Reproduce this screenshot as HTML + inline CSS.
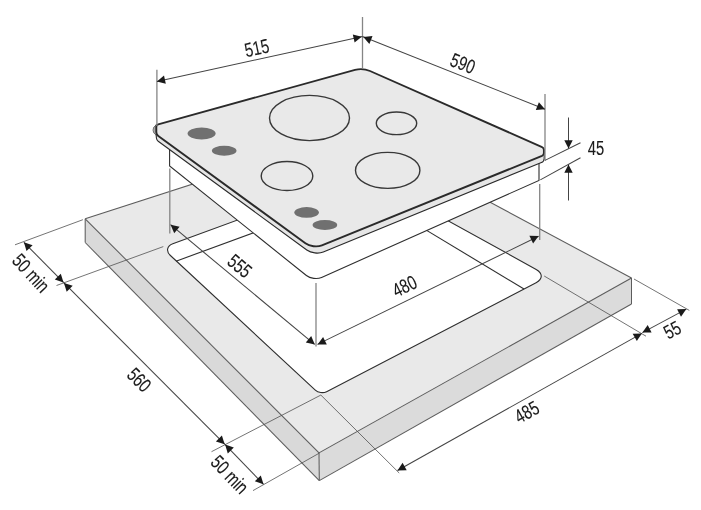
<!DOCTYPE html>
<html><head><meta charset="utf-8"><title>Hob installation dimensions</title>
<style>
html,body{margin:0;padding:0;background:#ffffff;}
body{width:701px;height:510px;overflow:hidden;font-family:"Liberation Sans",sans-serif;}
svg{display:block;font-family:"Liberation Sans",sans-serif;will-change:transform;filter:blur(0.35px);}
</style></head><body>
<svg width="701" height="510" viewBox="0 0 701 510">
<rect width="701" height="510" fill="#ffffff"/>
<polygon points="85.2,218.8 357.0,131.0 631.5,278.0 319.0,452.9" fill="#e9e9e9" stroke="none"/>
<polygon points="85.2,218.8 319.0,452.9 319.3,480.6 85.2,242.5" fill="#d9d9d9"/>
<polygon points="319.0,452.9 631.5,278.0 631.5,304.0 319.3,480.6" fill="#dbdbdb"/>
<path d="M170.4 255.5 C165.8 251.2 166.9 245.9 172.8 243.7 L363.2 174.1 L536.2 269.4 C543.0 273.2 542.9 279.1 536.1 282.7 L326.6 391.7 C323.2 393.4 318.1 392.8 315.3 390.1 Z" fill="#ffffff" stroke="#2e2e2e" stroke-width="1.1"/>
<line x1="176.0" y1="261.2" x2="300.0" y2="215.8" stroke="#2e2e2e" stroke-width="1.1"/>
<line x1="420.0" y1="226.4" x2="524.0" y2="289.0" stroke="#2e2e2e" stroke-width="1.1"/>
<line x1="85.2" y1="218.8" x2="357.0" y2="131.0" stroke="#5c5c5c" stroke-width="1.05"/>
<line x1="357.0" y1="131.0" x2="631.5" y2="278.0" stroke="#5c5c5c" stroke-width="1.05"/>
<line x1="631.5" y1="278.0" x2="319.0" y2="452.9" stroke="#5c5c5c" stroke-width="1.05"/>
<line x1="319.0" y1="452.9" x2="85.2" y2="218.8" stroke="#5c5c5c" stroke-width="1.05"/>
<line x1="85.2" y1="218.8" x2="85.2" y2="242.5" stroke="#5c5c5c" stroke-width="1.05"/>
<line x1="85.2" y1="242.5" x2="319.3" y2="480.6" stroke="#5c5c5c" stroke-width="1.05"/>
<line x1="319.3" y1="480.6" x2="631.5" y2="304.0" stroke="#5c5c5c" stroke-width="1.05"/>
<line x1="631.5" y1="304.0" x2="631.5" y2="278.0" stroke="#5c5c5c" stroke-width="1.05"/>
<line x1="319.0" y1="452.9" x2="319.3" y2="480.6" stroke="#5c5c5c" stroke-width="1.05"/>
<path d="M169.6 148.0 L169.6 166.0 L306.4 275.5 C310.2 278.6 317.1 279.4 321.6 277.4 L539.0 180.4 L539.0 160.0" fill="#ffffff" stroke="#2e2e2e" stroke-width="1.1"/>
<path d="M156.3 124.9 L154.2 127.9 C153.4 129.1 153.4 130.9 154.2 132.1 L155.4 133.8 C155.8 134.4 156.3 135.7 156.3 136.5 L156.4 138.0 C156.5 139.1 157.3 140.5 158.2 141.2 L306.8 250.0 C311.1 253.1 318.5 254.0 323.3 252.0 L541.4 162.5 C543.0 161.9 544.2 160.1 544.2 158.4 L544.2 150.0 Z" fill="#e6e6e6" stroke="#2a2a2a" stroke-width="1.1" stroke-linejoin="round"/>
<path d="M156.6 125 Q152.6 127 152.9 130.2 Q153.2 133.6 156.4 135 Z" fill="#a8a8a8" stroke="#555" stroke-width="0.6"/>
<path d="M543.6 148 L545 149.5 L545 155.5 L543.8 155.6 Z" fill="#9a9a9a"/>
<path d="M158.2 124.4 C157.2 124.7 156.3 125.8 156.3 126.9 L156.3 131.9 C156.3 133.3 157.2 135.1 158.3 135.9 L305.4 243.3 C309.6 246.4 317.1 247.3 321.9 245.3 L542.0 155.9 C543.1 155.4 543.9 154.2 543.9 153.1 L543.9 149.9 C543.9 148.8 543.1 147.5 542.1 147.1 L370.0 71.0 C366.0 69.3 359.2 68.8 355.0 69.9 Z" fill="#e9e9e9" stroke="#2a2a2a" stroke-width="1.9" stroke-linejoin="round"/>
<ellipse cx="309.5" cy="118.0" rx="40.0" ry="22.6" fill="none" stroke="#383838" stroke-width="1.4"/>
<ellipse cx="396.5" cy="123.3" rx="20.2" ry="11.3" fill="none" stroke="#383838" stroke-width="1.4"/>
<ellipse cx="287.0" cy="176.0" rx="25.8" ry="14.5" fill="none" stroke="#383838" stroke-width="1.4"/>
<ellipse cx="387.7" cy="170.4" rx="32.2" ry="18.0" fill="none" stroke="#383838" stroke-width="1.4"/>
<ellipse cx="201.6" cy="133.4" rx="14.0" ry="6.0" fill="#707070"/>
<ellipse cx="224.2" cy="150.8" rx="12.3" ry="5.0" fill="#707070"/>
<ellipse cx="306.6" cy="212.4" rx="12.3" ry="5.3" fill="#707070"/>
<ellipse cx="324.9" cy="225.0" rx="12.3" ry="5.0" fill="#707070"/>
<line x1="156.9" y1="69.8" x2="156.9" y2="126.0" stroke="#858585" stroke-width="1.3"/>
<line x1="362.5" y1="17.0" x2="362.5" y2="68.0" stroke="#858585" stroke-width="1.3"/>
<line x1="545.0" y1="94.0" x2="545.0" y2="160.4" stroke="#858585" stroke-width="1.3"/>
<line x1="539.7" y1="184.0" x2="539.7" y2="240.0" stroke="#858585" stroke-width="1.3"/>
<line x1="316.0" y1="283.0" x2="316.0" y2="346.5" stroke="#858585" stroke-width="1.3"/>
<line x1="169.8" y1="168.5" x2="169.8" y2="233.5" stroke="#858585" stroke-width="1.3"/>
<line x1="82.9" y1="219.7" x2="15.0" y2="244.8" stroke="#505050" stroke-width="0.8"/>
<line x1="163.3" y1="246.6" x2="56.5" y2="285.5" stroke="#505050" stroke-width="0.8"/>
<line x1="320.8" y1="395.1" x2="211.5" y2="451.7" stroke="#505050" stroke-width="0.8"/>
<line x1="319.5" y1="453.0" x2="253.0" y2="490.6" stroke="#505050" stroke-width="0.8"/>
<line x1="320.8" y1="395.0" x2="399.2" y2="473.0" stroke="#505050" stroke-width="0.8"/>
<line x1="544.2" y1="276.0" x2="646.0" y2="336.2" stroke="#505050" stroke-width="0.8"/>
<line x1="634.0" y1="279.0" x2="689.3" y2="310.4" stroke="#505050" stroke-width="0.8"/>
<line x1="545.0" y1="160.4" x2="580.5" y2="142.7" stroke="#444444" stroke-width="1.05"/>
<line x1="540.3" y1="179.9" x2="580.5" y2="157.8" stroke="#444444" stroke-width="1.05"/>
<line x1="156.9" y1="81.4" x2="362.5" y2="36.6" stroke="#444444" stroke-width="1.05"/>
<line x1="362.5" y1="36.6" x2="545.0" y2="109.2" stroke="#444444" stroke-width="1.05"/>
<line x1="568.5" y1="117.5" x2="568.5" y2="148.5" stroke="#444444" stroke-width="1.05"/>
<line x1="568.5" y1="164.6" x2="568.5" y2="200.5" stroke="#444444" stroke-width="1.05"/>
<line x1="317.4" y1="344.4" x2="538.6" y2="236.3" stroke="#444444" stroke-width="1.05"/>
<line x1="170.6" y1="224.7" x2="314.6" y2="344.4" stroke="#444444" stroke-width="1.05"/>
<line x1="23.9" y1="242.3" x2="63.7" y2="282.7" stroke="#444444" stroke-width="1.05"/>
<line x1="63.7" y1="282.7" x2="224.9" y2="444.4" stroke="#444444" stroke-width="1.05"/>
<line x1="224.9" y1="444.4" x2="263.5" y2="484.3" stroke="#444444" stroke-width="1.05"/>
<line x1="397.5" y1="470.5" x2="641.9" y2="333.4" stroke="#444444" stroke-width="1.05"/>
<line x1="642.4" y1="332.6" x2="686.3" y2="309.1" stroke="#444444" stroke-width="1.05"/>
<polygon points="156.9,81.4 164.0,75.5 165.8,83.8" fill="#1a1a1a"/>
<polygon points="361.7,36.8 354.6,42.6 352.8,34.4" fill="#1a1a1a"/>
<polygon points="363.3,37.0 372.5,36.1 369.4,43.9" fill="#1a1a1a"/>
<polygon points="545.0,109.2 535.8,110.1 538.9,102.3" fill="#1a1a1a"/>
<polygon points="568.5,148.5 564.3,140.3 572.7,140.3" fill="#1a1a1a"/>
<polygon points="568.5,164.6 572.7,172.8 564.3,172.8" fill="#1a1a1a"/>
<polygon points="538.6,236.0 533.1,243.4 529.4,235.8" fill="#1a1a1a"/>
<polygon points="317.6,344.4 323.1,337.0 326.8,344.6" fill="#1a1a1a"/>
<polygon points="170.6,224.7 179.6,226.7 174.2,233.2" fill="#1a1a1a"/>
<polygon points="314.8,344.4 305.8,342.4 311.2,335.9" fill="#1a1a1a"/>
<polygon points="23.9,242.3 32.6,245.3 26.5,251.1" fill="#1a1a1a"/>
<polygon points="63.5,282.5 54.8,279.5 60.8,273.7" fill="#1a1a1a"/>
<polygon points="63.9,282.9 72.7,285.7 66.7,291.7" fill="#1a1a1a"/>
<polygon points="224.7,444.2 215.9,441.4 221.9,435.4" fill="#1a1a1a"/>
<polygon points="225.1,444.6 233.8,447.6 227.8,453.4" fill="#1a1a1a"/>
<polygon points="263.5,484.3 254.8,481.3 260.8,475.5" fill="#1a1a1a"/>
<polygon points="397.5,470.5 402.6,462.8 406.7,470.2" fill="#1a1a1a"/>
<polygon points="641.9,333.4 636.8,341.1 632.7,333.8" fill="#1a1a1a"/>
<polygon points="642.4,332.6 647.7,325.0 651.6,332.4" fill="#1a1a1a"/>
<polygon points="686.3,309.1 681.0,316.7 677.1,309.2" fill="#1a1a1a"/>
<text transform="translate(256.8 48.0) rotate(-12.0) scale(0.75 1)" font-size="19.7" text-anchor="middle" dominant-baseline="central" fill="#1a1a1a" stroke="#1a1a1a" stroke-width="0.12">515</text>
<text transform="translate(462.8 63.5) rotate(21.4) scale(0.75 1)" font-size="19.7" text-anchor="middle" dominant-baseline="central" fill="#1a1a1a" stroke="#1a1a1a" stroke-width="0.12">590</text>
<text transform="translate(596.0 147.8) rotate(0.0) scale(0.75 1)" font-size="19.7" text-anchor="middle" dominant-baseline="central" fill="#1a1a1a" stroke="#1a1a1a" stroke-width="0.12">45</text>
<text transform="translate(404.5 286.2) rotate(-26.0) scale(0.75 1)" font-size="19.7" text-anchor="middle" dominant-baseline="central" fill="#1a1a1a" stroke="#1a1a1a" stroke-width="0.12">480</text>
<text transform="translate(239.7 266.0) rotate(39.5) scale(0.75 1)" font-size="19.7" text-anchor="middle" dominant-baseline="central" fill="#1a1a1a" stroke="#1a1a1a" stroke-width="0.12">555</text>
<text transform="translate(31.0 273.2) rotate(47.0) scale(0.75 1)" font-size="19.7" text-anchor="middle" dominant-baseline="central" fill="#1a1a1a" stroke="#1a1a1a" stroke-width="0.12">50 min</text>
<text transform="translate(139.2 379.8) rotate(45.0) scale(0.75 1)" font-size="19.7" text-anchor="middle" dominant-baseline="central" fill="#1a1a1a" stroke="#1a1a1a" stroke-width="0.12">560</text>
<text transform="translate(229.8 474.6) rotate(46.0) scale(0.75 1)" font-size="19.7" text-anchor="middle" dominant-baseline="central" fill="#1a1a1a" stroke="#1a1a1a" stroke-width="0.12">50 min</text>
<text transform="translate(526.8 412.0) rotate(-29.0) scale(0.75 1)" font-size="19.7" text-anchor="middle" dominant-baseline="central" fill="#1a1a1a" stroke="#1a1a1a" stroke-width="0.12">485</text>
<text transform="translate(672.2 330.0) rotate(-28.0) scale(0.75 1)" font-size="19.7" text-anchor="middle" dominant-baseline="central" fill="#1a1a1a" stroke="#1a1a1a" stroke-width="0.12">55</text>
</svg>
</body></html>
